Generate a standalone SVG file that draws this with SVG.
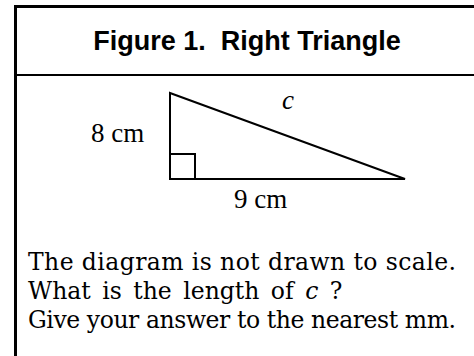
<svg xmlns="http://www.w3.org/2000/svg" width="474" height="356" viewBox="0 0 474 356">
<style>
.frame{fill:none;stroke:#000;stroke-width:3}
.sep{stroke:#000;stroke-width:2}
.tri{fill:none;stroke:#000;stroke-width:2;stroke-linejoin:miter}
.title{font-family:"Liberation Sans",Arial,sans-serif;font-weight:bold;font-size:27px;fill:#000;white-space:pre}
.lbl{font-family:"Liberation Serif","Times New Roman",serif;font-size:27px;fill:#000}
.body{font-family:"DejaVu Serif","Liberation Serif",serif;font-size:23.5px;fill:#000}
</style>
<rect class="frame" x="15.5" y="6.5" width="500" height="380"/>
<line class="sep" x1="15" y1="75" x2="474" y2="75"/>
<g id="title"><text class="title" x="247" y="50" text-anchor="middle" xml:space="preserve">Figure 1.  Right Triangle</text></g>
<g id="triangle">
<polygon class="tri" points="170,93 170,179 405,179"/>
<rect class="tri" x="170" y="154" width="25" height="25"/>
</g>
<g id="labels">
<text class="lbl" x="91" y="142">8 cm</text>
<text class="lbl" x="234" y="208">9 cm</text>
<text class="lbl" x="282" y="109" font-style="italic">c</text>
</g>
<g id="question">
<text class="body" x="28" y="270" textLength="428" lengthAdjust="spacing">The diagram is not drawn to scale.</text>
<text class="body" x="28" y="299" word-spacing="4">What is the length of <tspan font-style="italic">c</tspan> ?</text>
<text class="body" x="28" y="328" textLength="428" lengthAdjust="spacing">Give your answer to the nearest mm.</text>
</g>
</svg>
